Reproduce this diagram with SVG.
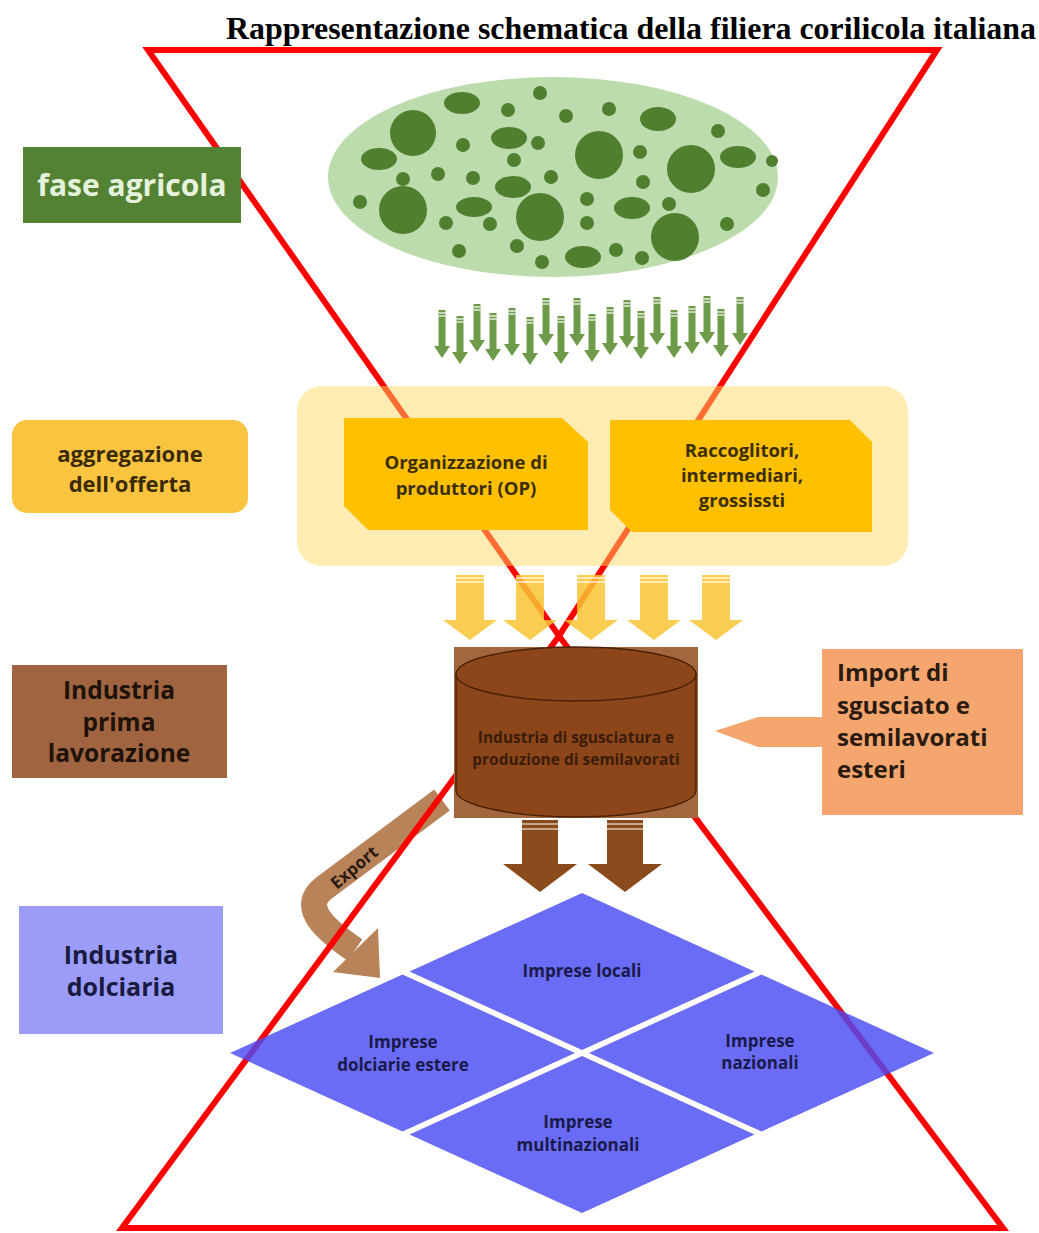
<svg xmlns="http://www.w3.org/2000/svg" xmlns:xlink="http://www.w3.org/1999/xlink" width="1039" height="1233" viewBox="0 0 1039 1233">
<style>
.t{font-family:"Open Sans","Noto Sans","Liberation Sans",sans-serif;font-weight:bold;text-anchor:middle}
.dot{fill:#4f7f2f}
.red{fill:none;stroke:#ff0000;stroke-width:6;stroke-linejoin:miter;stroke-miterlimit:10}
.stripe{stroke:#ffffff;stroke-width:1.2}
</style>
<defs>
<g id="garrow">
<path d="M-3.5 0 H3.5 V36 H8 L0 48 L-8 36 H-3.5 Z" fill="#6e9b4a"/>
<line x1="-3.5" y1="3" x2="3.5" y2="3" class="stripe"/>
<line x1="-3.5" y1="6" x2="3.5" y2="6" class="stripe"/>
</g>
<g id="yarrow">
<path d="M-14 0 H14 V45 H27 L0 65 L-27 45 H-14 Z" fill="#f8c433" fill-opacity="0.85"/>
<line x1="-14" y1="3" x2="14" y2="3" class="stripe"/>
<line x1="-14" y1="7" x2="14" y2="7" class="stripe"/>
</g>
<g id="barrow">
<path d="M-18 0 H18 V44 H37 L0 72 L-37 44 H-18 Z" fill="#8b4a1c"/>
<line x1="-18" y1="4" x2="18" y2="4" class="stripe" stroke-width="1.5"/>
<line x1="-18" y1="9" x2="18" y2="9" class="stripe" stroke-width="1.5"/>
</g>
</defs>

<text x="631" y="39" font-family="'Liberation Serif',serif" font-weight="bold" font-size="31" text-anchor="middle" textLength="810" lengthAdjust="spacingAndGlyphs" fill="#000">Rappresentazione schematica della filiera corilicola italiana</text>

<g id="campo">
<ellipse cx="553" cy="177" rx="225" ry="100" fill="#bddcae"/>
<ellipse class="dot" cx="462" cy="103" rx="18" ry="11"/>
<circle class="dot" cx="540" cy="93" r="7"/>
<circle class="dot" cx="508" cy="110" r="7"/>
<circle class="dot" cx="566" cy="116" r="7"/>
<circle class="dot" cx="609" cy="109" r="7"/>
<ellipse class="dot" cx="658" cy="119" rx="18" ry="12"/>
<circle class="dot" cx="413" cy="133" r="23"/>
<ellipse class="dot" cx="509" cy="138" rx="18" ry="11"/>
<circle class="dot" cx="538" cy="143" r="7"/>
<circle class="dot" cx="463" cy="145" r="7"/>
<circle class="dot" cx="599" cy="155" r="24"/>
<circle class="dot" cx="718" cy="131" r="7"/>
<circle class="dot" cx="640" cy="152" r="7"/>
<circle class="dot" cx="691" cy="169" r="24"/>
<ellipse class="dot" cx="738" cy="157" rx="18" ry="11"/>
<circle class="dot" cx="772" cy="161" r="6"/>
<ellipse class="dot" cx="379" cy="159" rx="18" ry="11"/>
<circle class="dot" cx="514" cy="160" r="7"/>
<circle class="dot" cx="438" cy="174" r="7"/>
<circle class="dot" cx="403" cy="179" r="7"/>
<circle class="dot" cx="473" cy="178" r="7"/>
<ellipse class="dot" cx="513" cy="187" rx="18" ry="11"/>
<circle class="dot" cx="551" cy="177" r="7"/>
<circle class="dot" cx="643" cy="182" r="7"/>
<circle class="dot" cx="763" cy="190" r="7"/>
<circle class="dot" cx="360" cy="202" r="7"/>
<circle class="dot" cx="403" cy="210" r="24"/>
<ellipse class="dot" cx="474" cy="207" rx="18" ry="10"/>
<circle class="dot" cx="540" cy="217" r="24"/>
<circle class="dot" cx="587" cy="199" r="7"/>
<ellipse class="dot" cx="632" cy="208" rx="18" ry="11"/>
<circle class="dot" cx="669" cy="204" r="7"/>
<circle class="dot" cx="446" cy="223" r="7"/>
<circle class="dot" cx="490" cy="224" r="7"/>
<circle class="dot" cx="587" cy="223" r="7"/>
<circle class="dot" cx="675" cy="237" r="24"/>
<circle class="dot" cx="727" cy="224" r="7"/>
<circle class="dot" cx="459" cy="251" r="7"/>
<circle class="dot" cx="517" cy="246" r="7"/>
<ellipse class="dot" cx="583" cy="257" rx="18" ry="11"/>
<circle class="dot" cx="616" cy="250" r="7"/>
<circle class="dot" cx="542" cy="262" r="7"/>
<circle class="dot" cx="642" cy="258" r="7"/>
</g>

<g id="connectors">
<g id="frecce-verdi">
<use href="#garrow" x="442" y="310"/>
<use href="#garrow" x="460" y="316"/>
<use href="#garrow" x="477" y="304"/>
<use href="#garrow" x="493" y="313"/>
<use href="#garrow" x="512" y="308"/>
<use href="#garrow" x="530" y="317"/>
<use href="#garrow" x="546" y="298"/>
<use href="#garrow" x="561" y="316"/>
<use href="#garrow" x="577" y="298"/>
<use href="#garrow" x="592" y="314"/>
<use href="#garrow" x="610" y="307"/>
<use href="#garrow" x="627" y="300"/>
<use href="#garrow" x="641" y="311"/>
<use href="#garrow" x="657" y="297"/>
<use href="#garrow" x="674" y="310"/>
<use href="#garrow" x="692" y="306"/>
<use href="#garrow" x="707" y="296"/>
<use href="#garrow" x="721" y="309"/>
<use href="#garrow" x="740" y="297"/>
</g>
<g id="export">
<path d="M442 800 L324 888 C302 905 318 925 355 950" fill="none" stroke="#b9835a" stroke-width="26"/>
<polygon points="378,928 333,972 380,978" fill="#b9835a"/>
<text class="t" font-size="17" fill="#2a1a10" transform="translate(358,872) rotate(-40)">Export</text>
</g>
</g>

<g id="clessidra">
<polygon class="red" points="148,50 937,50 559,636"/>
<polygon class="red" points="559,636 1003,1228 122,1228"/>
</g>

<g id="aggregazione-panel">
<rect x="297" y="386" width="611" height="180" rx="25" fill="#ffd966" fill-opacity="0.5"/>
</g>
<g id="op">
<path d="M344 418 H562 L588 442 V530 H368 L344 506 Z" fill="#ffc000"/>
<text class="t" font-size="18.5" fill="#3b2e05"><tspan x="466" y="469">Organizzazione di</tspan><tspan x="466" y="495">produttori (OP)</tspan></text>
</g>
<g id="raccoglitori">
<path d="M610 420 H850 L872 442 V532 H632 L610 510 Z" fill="#ffc000"/>
<text class="t" font-size="18.5" fill="#3b2e05"><tspan x="742" y="457">Raccoglitori,</tspan><tspan x="742" y="482">intermediari,</tspan><tspan x="742" y="507">grossissti</tspan></text>
</g>

<g id="frecce-gialle">
<use href="#yarrow" x="470" y="575"/>
<use href="#yarrow" x="530" y="575"/>
<use href="#yarrow" x="591" y="575"/>
<use href="#yarrow" x="654" y="575"/>
<use href="#yarrow" x="716" y="575"/>
</g>

<g id="industria-sgusciatura">
<rect x="454" y="647" width="244" height="171" fill="#a2673f"/>
<path d="M456 674 V790 A120 27 0 0 0 696 790 V674 Z" fill="#8c4619" stroke="#4d2208" stroke-width="1.5"/>
<ellipse cx="576" cy="674" rx="120" ry="27" fill="#8c4619" stroke="#4d2208" stroke-width="1.5"/>
<text class="t" font-size="15.5" fill="#3a1c0a"><tspan x="576" y="743">Industria di sgusciatura e</tspan><tspan x="576" y="765">produzione di semilavorati</tspan></text>
</g>

<g id="frecce-marroni">
<use href="#barrow" x="540" y="820"/>
<use href="#barrow" x="625" y="820"/>
</g>

<g id="import">
<polygon points="715,731 758,717 823,717 823,747 758,747" fill="#f4a66e"/>
<rect x="822" y="649" width="201" height="166" fill="#f4a66e"/>
<text class="t" font-size="24" fill="#2a1a10"><tspan x="837" y="681" text-anchor="start">Import di</tspan><tspan x="837" y="714" text-anchor="start">sgusciato e</tspan><tspan x="837" y="746" text-anchor="start">semilavorati</tspan><tspan x="837" y="778" text-anchor="start">esteri</tspan></text>
</g>

<g id="imprese-locali">
<polygon points="582,893 754.5,971.5 582,1050 409.5,971.5" fill="#4b4cf4" fill-opacity="0.82"/>
<text class="t" font-size="17" fill="#1a1a4a" x="582" y="977">Imprese locali</text>
</g>
<g id="imprese-estere">
<polygon points="230,1053 402.5,974.5 575,1053 402.5,1131.5" fill="#4b4cf4" fill-opacity="0.82"/>
<text class="t" font-size="17" fill="#1a1a4a"><tspan x="403" y="1048">Imprese</tspan><tspan x="403" y="1071">dolciarie estere</tspan></text>
</g>
<g id="imprese-nazionali">
<polygon points="934,1053 761.5,974.5 589,1053 761.5,1131.5" fill="#4b4cf4" fill-opacity="0.82"/>
<text class="t" font-size="17" fill="#1a1a4a"><tspan x="760" y="1047">Imprese</tspan><tspan x="760" y="1069">nazionali</tspan></text>
</g>
<g id="imprese-multinazionali">
<polygon points="582,1056 754.5,1134.5 582,1213 409.5,1134.5" fill="#4b4cf4" fill-opacity="0.82"/>
<text class="t" font-size="17" fill="#1a1a4a"><tspan x="578" y="1128">Imprese</tspan><tspan x="578" y="1151">multinazionali</tspan></text>
</g>

<g id="fase-agricola">
<rect x="23" y="147" width="218" height="76" fill="#548235"/>
<text class="t" font-size="30" fill="#e6f3dc" x="132" y="196">fase agricola</text>
</g>
<g id="aggregazione-offerta">
<rect x="12" y="420" width="236" height="93" rx="15" fill="#f9c440"/>
<text class="t" font-size="22" fill="#3a2a05"><tspan x="130" y="462">aggregazione</tspan><tspan x="130" y="492">dell'offerta</tspan></text>
</g>
<g id="industria-prima">
<rect x="12" y="665" width="215" height="113" fill="#a06441"/>
<text class="t" font-size="24.5" fill="#1e120a"><tspan x="119" y="699">Industria</tspan><tspan x="119" y="731">prima</tspan><tspan x="119" y="762">lavorazione</tspan></text>
</g>
<g id="industria-dolciaria">
<rect x="19" y="906" width="204" height="128" fill="#9b9cf8"/>
<text class="t" font-size="25" fill="#1a1a40"><tspan x="121" y="964">Industria</tspan><tspan x="121" y="996">dolciaria</tspan></text>
</g>
</svg>
